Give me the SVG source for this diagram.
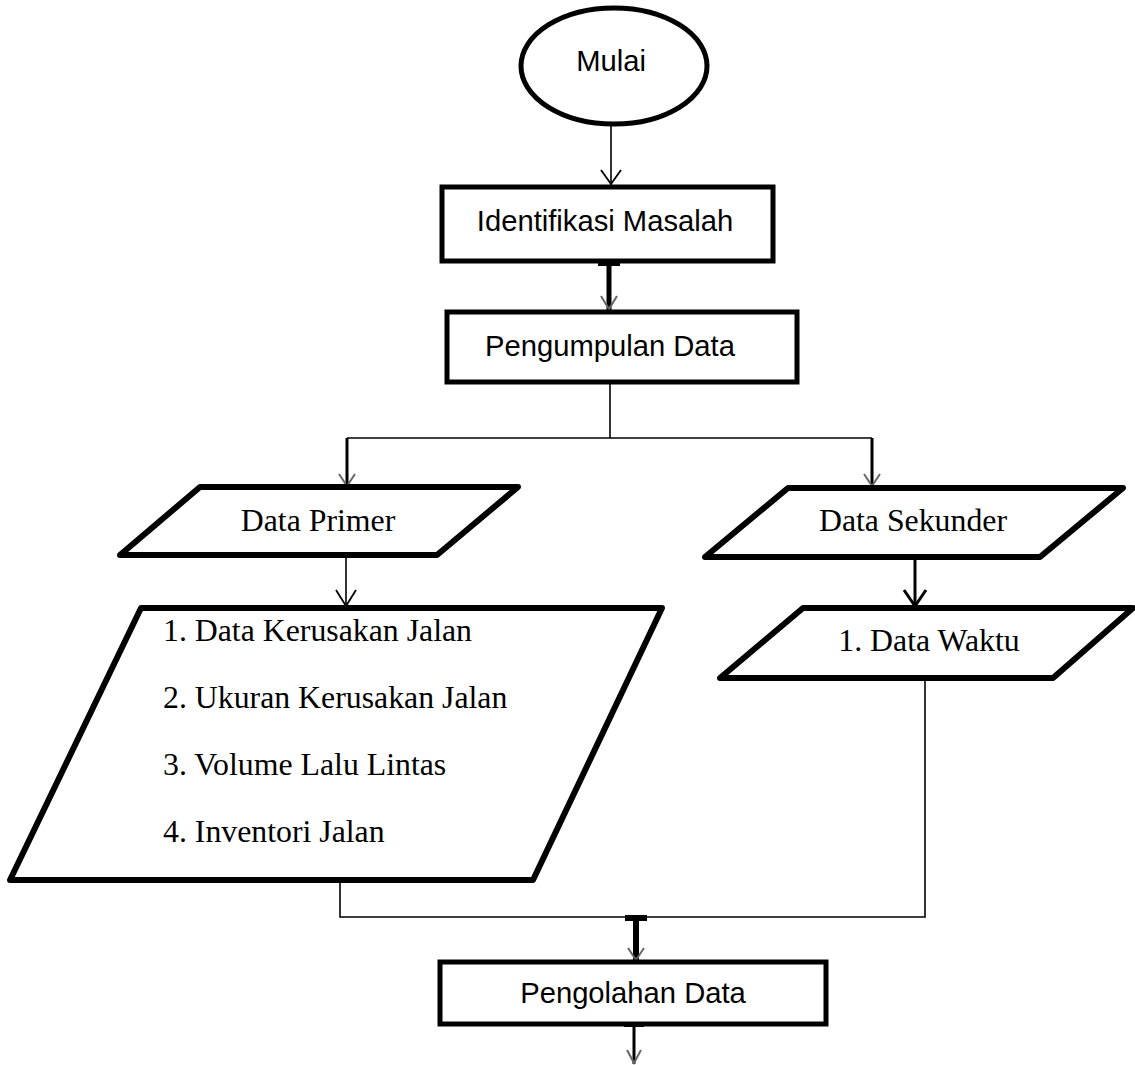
<svg xmlns="http://www.w3.org/2000/svg" width="1135" height="1065" viewBox="0 0 1135 1065">
<style>
.bg{fill:#fff}
.shape{fill:#fff;stroke:#000;stroke-width:5;stroke-linejoin:miter}
.para{fill:#fff;stroke:#000;stroke-width:6;stroke-linejoin:round}
.sans{font-family:"Liberation Sans",Arial,sans-serif;font-size:29.2px;fill:#000;text-anchor:middle}
.serif{font-family:"Liberation Serif","Times New Roman",serif;font-size:31.8px;fill:#000}
.mid{text-anchor:middle}
.thin{fill:none;stroke:#000;stroke-width:1.6}
.thick{fill:none;stroke:#000;stroke-width:5}
.med{fill:none;stroke:#000;stroke-width:3}
.head{fill:none;stroke:#000;stroke-width:1.8}
.faint{fill:none;stroke:#666;stroke-width:2}
</style>
<rect class="bg" x="0" y="0" width="1135" height="1065"/>

<g id="connectors">
  <line class="thin" x1="611" y1="125" x2="611" y2="185"/>
  <polyline class="head" points="601,170 611,184 621,170"/>
  <line class="thick" x1="609" y1="262" x2="609" y2="310"/>
  <rect x="598" y="259" width="22" height="7" fill="#000"/>
  <polyline class="faint" points="601,296 609,309 617,296"/>
  <line class="thin" x1="610" y1="382" x2="610" y2="438"/>
  <line class="thin" x1="347" y1="438" x2="872" y2="438"/>
  <line class="med" x1="347" y1="438" x2="347" y2="486"/>
  <line class="med" x1="872" y1="438" x2="872" y2="487"/>
  <polyline class="faint" points="339,474 347,486 355,474"/>
  <polyline class="faint" points="864,474 872,486 880,474"/>
  <line class="thin" x1="346" y1="555" x2="346" y2="606"/>
  <polyline class="head" points="336,590 346,606 356,590"/>
  <line class="med" x1="915" y1="557" x2="915" y2="606"/>
  <polyline class="med" points="904,590 915,606 926,590"/>
  <polyline class="thin" points="340,880 340,917 925,917 925,678"/>
  <line x1="636" y1="917" x2="636" y2="961" stroke="#000" stroke-width="6"/>
  <rect x="625" y="915" width="22" height="6" fill="#000"/>
  <polyline class="faint" points="628,948 636,960 644,948"/>
  <line class="med" x1="634" y1="1003" x2="634" y2="1064"/>
  <rect x="624" y="1022" width="20" height="5" fill="#000"/>
  <polyline class="faint" points="627,1050 634,1063 641,1050"/>
</g>

<g id="mulai">
  <ellipse class="shape" cx="614" cy="66" rx="93" ry="58" stroke-width="4.5"/>
  <text class="sans" x="611" y="71">Mulai</text>
</g>

<g id="identifikasi">
  <rect class="shape" x="442" y="187" width="331" height="74"/>
  <text class="sans" x="605" y="231">Identifikasi Masalah</text>
</g>

<g id="pengumpulan">
  <rect class="shape" x="447" y="312" width="350" height="70"/>
  <text class="sans" x="610" y="356">Pengumpulan Data</text>
</g>

<g id="data-primer">
  <polygon class="para" points="200,487 518,487 437,555 120,555"/>
  <text class="serif mid" x="318" y="531">Data Primer</text>
</g>

<g id="data-sekunder">
  <polygon class="para" points="788,488 1123,488 1040,557 705,557"/>
  <text class="serif mid" x="913" y="531">Data Sekunder</text>
</g>

<g id="data-primer-list">
  <polygon class="para" points="141,608 662,608 533,880 10,880"/>
  <text class="serif" x="163" y="641">1. Data Kerusakan Jalan</text>
  <text class="serif" x="163" y="708">2. Ukuran Kerusakan Jalan</text>
  <text class="serif" x="163" y="775">3. Volume Lalu Lintas</text>
  <text class="serif" x="163" y="842">4. Inventori Jalan</text>
</g>

<g id="data-waktu">
  <polygon class="para" points="803,608 1133,608 1053,678 720,678"/>
  <text class="serif mid" x="929" y="651">1. Data Waktu</text>
</g>

<g id="pengolahan">
  <rect class="shape" x="440" y="962" width="386" height="62" stroke-width="6"/>
  <text class="sans" x="633" y="1003">Pengolahan Data</text>
</g>
</svg>
